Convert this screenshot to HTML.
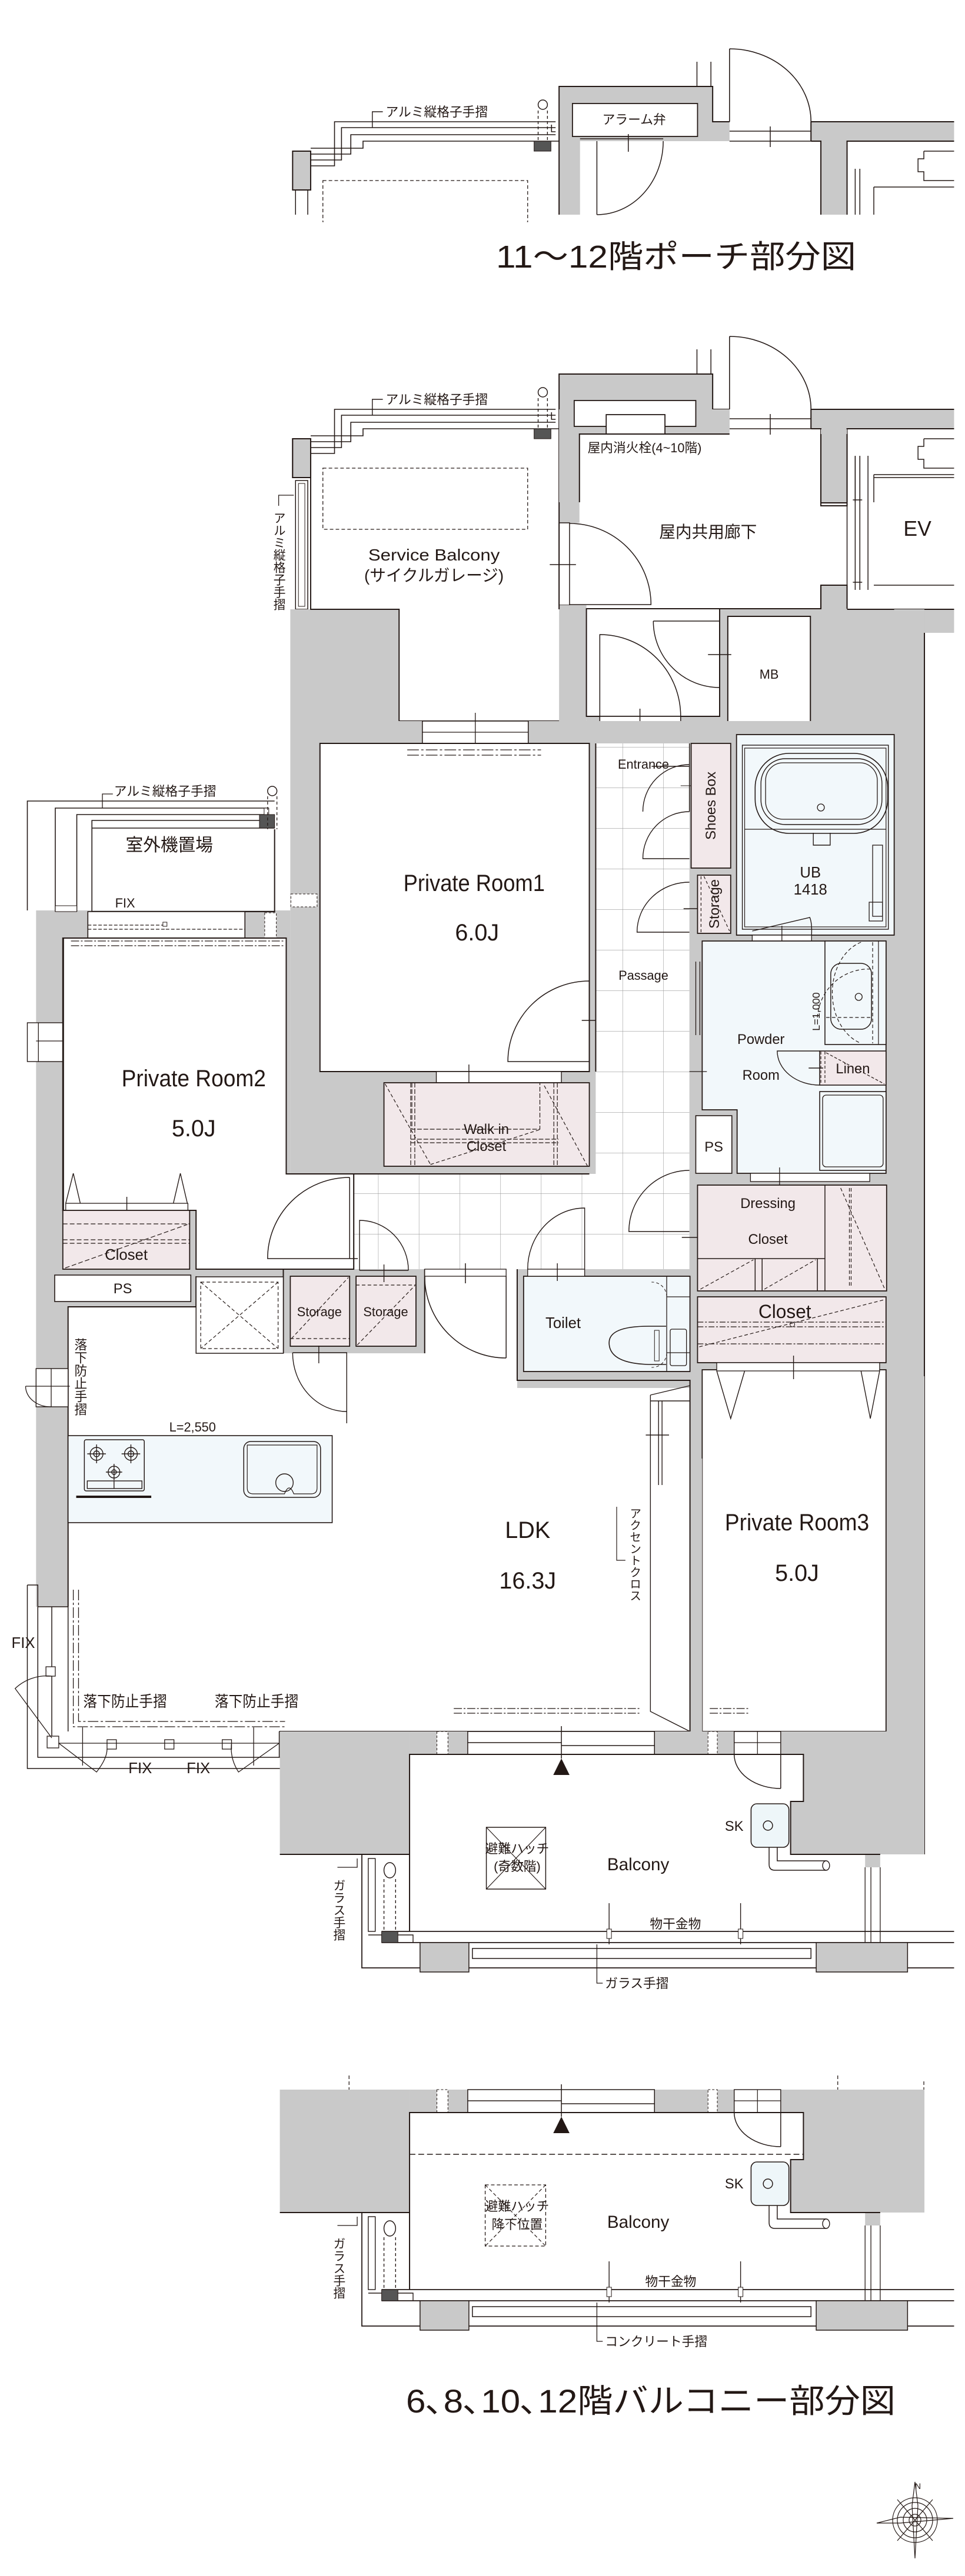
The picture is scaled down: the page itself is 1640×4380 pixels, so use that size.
<!DOCTYPE html>
<html><head><meta charset="utf-8"><style>
html,body{margin:0;padding:0;background:#fff}
svg{display:block}
text{font-family:"Liberation Sans","Noto Sans CJK JP",sans-serif;fill:#231815}
.v{writing-mode:vertical-rl;text-orientation:upright}
</style></head><body>
<svg width="1640" height="4380" viewBox="0 0 1640 4380" xmlns="http://www.w3.org/2000/svg">
<defs>
<pattern id="tile" x="650" y="2029" width="70" height="69" patternUnits="userSpaceOnUse">
<path d="M0 0H70M0 0V69" stroke="#9a9a9a" stroke-width="1.2" fill="none"/>
</pattern>
<g id="topw">
 <rect x="961" y="147" width="264" height="60" fill="#c9c9c9"/>
 <rect x="961" y="207" width="293" height="33" fill="#c9c9c9"/>
 <rect x="961" y="240" width="36" height="125" fill="#c9c9c9"/>
 <rect x="1394" y="207" width="246" height="33" fill="#c9c9c9"/>
 <rect x="1411" y="240" width="45" height="125" fill="#c9c9c9"/>
 <path d="M961 365V147H1225V207H1254M1394 207H1640M1394 240V207M1456 365V240H1640M1411 365V240H1394" fill="none" stroke="#231815" stroke-width="2"/>
 <path d="M1198 105V147M1222 105V147M1254 223H1394M1254 240H1394M1324 215V250" stroke="#231815" stroke-width="1.5" fill="none"/>
 <path d="M1254 83V207M1254 83A140 124 0 0 1 1394 207" stroke="#231815" stroke-width="1.6" fill="none"/>
 <path d="M534 282H575V207H955M534 272H587V217H955M534 262H603V229H955M534 252H624V240H961M948 212V224H955" stroke="#231815" stroke-width="1.6" fill="none"/>
 <rect x="503" y="257" width="31" height="66" fill="#c9c9c9" stroke="#231815" stroke-width="2"/>
 <circle cx="933" cy="178" r="8" fill="#fff" stroke="#231815" stroke-width="1.5"/>
 <path d="M925 188V240M941 188V240" stroke="#231815" stroke-width="1.4" stroke-dasharray="5 4"/>
 <rect x="918" y="240" width="29" height="17" fill="#555" stroke="#231815"/>
 <path d="M640 217V190H658" stroke="#231815" stroke-width="1.4" fill="none"/>
 <path d="M1588 257H1640M1588 257V270H1578V292H1588V307H1640M1470 287V365M1478 287V365M1502 318H1640M1502 318V365" stroke="#231815" stroke-width="1.5" fill="none"/>
</g>
<g id="balc">
 <rect x="481" y="2944" width="223" height="209" fill="#c9c9c9"/>
 <rect x="704" y="2944" width="638" height="39" fill="#c9c9c9"/>
 <rect x="1342" y="2944" width="247" height="39" fill="#c9c9c9"/>
 <rect x="1381" y="2983" width="208" height="80" fill="#c9c9c9"/>
 <rect x="1359" y="3063" width="230" height="90" fill="#c9c9c9"/>
 <rect x="1487" y="3153" width="26" height="22" fill="#c9c9c9"/>
 <rect x="804" y="2944" width="321" height="39" fill="#fff" stroke="#231815" stroke-width="1.5"/>
 <path d="M804 2963H965M965 2968H1125" stroke="#231815" stroke-width="1.4"/>
 <rect x="751" y="2944" width="19" height="39" fill="#fff" stroke="#231815" stroke-dasharray="4 3"/>
 <rect x="1217" y="2944" width="16" height="39" fill="#fff" stroke="#231815" stroke-dasharray="4 3"/>
 <rect x="1262" y="2944" width="80" height="39" fill="#fff" stroke="#231815" stroke-width="1.4"/>
 <path d="M1262 2963H1342M1302 2944V2983" stroke="#231815" stroke-width="1.2"/>
 <path d="M1342 2983V3041M1262 2983A80 58 0 0 0 1342 3041" stroke="#231815" stroke-width="1.5" fill="none"/>
 <path d="M481 3153H704V2983H1381V3063H1359V3153H1513M704 3284V3153" stroke="#231815" stroke-width="2" fill="none"/>
 <path d="M965 2935V2990" stroke="#231815" stroke-width="1.5"/>
 <path d="M965 2990L951 3018H979Z" fill="#231815"/>
 <path d="M656 3284H1640M656 3303H1640M622 3153V3346H1640M622 3346" stroke="#231815" stroke-width="1.8" fill="none"/>
 <rect x="633" y="3160" width="12" height="124" fill="#fff" stroke="#231815" stroke-width="1.4"/>
 <path d="M633 3290H710V3303" stroke="#231815" stroke-width="1.4" fill="none"/>
 <rect x="656" y="3284" width="28" height="19" fill="#555" stroke="#231815"/>
 <ellipse cx="670" cy="3180" rx="10" ry="13" fill="#fff" stroke="#231815" stroke-width="1.5"/>
 <path d="M660 3195V3284M680 3195V3284" stroke="#231815" stroke-width="1.4" stroke-dasharray="5 4"/>
 <rect x="722" y="3303" width="84" height="50" fill="#c9c9c9" stroke="#231815" stroke-width="1.5"/>
 <rect x="1403" y="3303" width="157" height="50" fill="#c9c9c9" stroke="#231815" stroke-width="1.5"/>
 <rect x="812" y="3313" width="582" height="17" fill="#fff" stroke="#231815" stroke-width="1.5"/>
 <path d="M1047 3236V3306M1273 3236V3306" stroke="#231815" stroke-width="1.4"/>
 <rect x="1043" y="3280" width="8" height="16" fill="#fff" stroke="#231815"/>
 <rect x="1269" y="3280" width="8" height="16" fill="#fff" stroke="#231815"/>
 <path d="M1487 3175V3303M1497 3175V3303M1513 3175V3303" stroke="#231815" stroke-width="1.3"/>
 <rect x="1291" y="3067" width="65" height="74" rx="10" fill="#eef6f9" stroke="#231815" stroke-width="1.6"/>
 <circle cx="1320" cy="3104" r="8" fill="none" stroke="#231815" stroke-width="1.5"/>
 <path d="M1322 3141V3170Q1322 3180 1332 3180H1420M1336 3141V3164H1420" stroke="#231815" stroke-width="1.5" fill="none"/>
 <ellipse cx="1420" cy="3172" rx="6" ry="8" fill="#fff" stroke="#231815" stroke-width="1.4"/>
 <path d="M1026 3306V3372H1036" stroke="#231815" stroke-width="1.3" fill="none"/>
 <path d="M580 3175H614V3160" stroke="#231815" stroke-width="1.3" fill="none"/>
</g>
</defs>

<g transform="scale(0.9887,1)">
<!-- ======== PORCH ======== -->
<use href="#topw"/>
<rect x="984" y="176" width="215" height="56" fill="#fff" stroke="#231815" stroke-width="1.8"/>
<path d="M997 236H1140M1080 228V258" stroke="#231815" stroke-width="1.5" fill="none"/>
<path d="M1026 240V365M1140 240A114 125 0 0 1 1026 365" stroke="#231815" stroke-width="1.5" fill="none"/>
<rect x="555" y="307" width="352" height="70" fill="none" stroke="#231815" stroke-width="1.3" stroke-dasharray="6 4"/>
<rect x="556" y="366" width="350" height="20" fill="#fff"/>
<path d="M508 323V365M529 323V365" stroke="#231815" stroke-width="1.5"/>

<!-- ======== MAIN TOP ======== -->
<g transform="translate(0,489)"><use href="#topw"/></g>
<rect x="961" y="696" width="293" height="42" fill="#c9c9c9"/>
<rect x="961" y="738" width="35" height="151" fill="#c9c9c9"/>
<rect x="987" y="681" width="209" height="44" fill="#fff" stroke="#231815" stroke-width="1.8"/>
<rect x="1042" y="705" width="101" height="33" fill="#fff" stroke="#231815" stroke-width="1.8"/>
<path d="M996 854V738H1254" stroke="#231815" stroke-width="2" fill="none"/>
<rect x="1411" y="854" width="45" height="0" fill="none"/>
<rect x="1411" y="995" width="45" height="41" fill="#c9c9c9" stroke="#231815" stroke-width="2"/>
<path d="M1411 852V854M1456 854V860H1411V854" stroke="#231815" stroke-width="2" fill="none"/>
<rect x="1411" y="730" width="45" height="125" fill="#c9c9c9"/>
<path d="M1411 738V855H1456V738" stroke="#231815" stroke-width="2" fill="none"/>
<path d="M1470 775V1003M1478 775V1003M1492 775V1003M1502 812H1640M1502 995H1640M1456 738V1036" stroke="#231815" stroke-width="1.5" fill="none"/>
<path d="M1466 850H1482M1466 990H1482" stroke="#231815" stroke-width="1.5"/>
<!-- corridor door frame -->
<rect x="961" y="889" width="18" height="140" fill="#fff" stroke="#231815" stroke-width="1.5"/>
<path d="M945 960H990" stroke="#231815" stroke-width="1.5"/>
<path d="M979 890A140 138 0 0 1 1119 1028H979" stroke="#231815" stroke-width="1.5" fill="none"/>
<!-- gray below corridor -->
<rect x="961" y="1029" width="47" height="252" fill="#c9c9c9"/>
<rect x="1008" y="1035" width="581" height="215" fill="#c9c9c9"/>
<rect x="1588" y="1036" width="52" height="40" fill="#c9c9c9"/>
<path d="M1008 1035H1411V995M1456 1036H1640" stroke="#231815" stroke-width="2" fill="none"/>
<rect x="1008" y="1035" width="229" height="183" fill="#fff" stroke="#231815" stroke-width="2"/>
<rect x="1251" y="1048" width="142" height="181" fill="#fff" stroke="#231815" stroke-width="2"/>
<path d="M1123 1056H1237V1169M1123 1056A114 113 0 0 0 1237 1169M1217 1113H1257" stroke="#231815" stroke-width="1.5" fill="none"/>
<path d="M1031 1218V1079A139 139 0 0 1 1170 1218" stroke="#231815" stroke-width="1.5" fill="none"/>
<rect x="1031" y="1218" width="139" height="46" fill="#fff" stroke="#231815" stroke-width="1.5"/>
<path d="M1100 1205V1240" stroke="#231815" stroke-width="1.5"/>

<!-- service balcony -->
<rect x="503" y="746" width="31" height="66" fill="#c9c9c9" stroke="#231815" stroke-width="2"/>
<rect x="508" y="817" width="21" height="219" fill="#fff" stroke="#231815" stroke-width="1.5"/>
<rect x="513" y="822" width="11" height="209" fill="none" stroke="#231815" stroke-width="1"/>
<path d="M479 860V842H505" stroke="#231815" stroke-width="1.3" fill="none"/>
<rect x="555" y="796" width="352" height="104" fill="none" stroke="#231815" stroke-width="1.3" stroke-dasharray="6 4"/>
<rect x="499" y="1036" width="187" height="190" fill="#c9c9c9"/>
<path d="M534 812V1036H686V1226H961" stroke="#231815" stroke-width="2" fill="none"/>
<path d="M961 1036V854" stroke="#231815" stroke-width="2"/>

<!-- ======== CORE GRAY ======== -->
<rect x="499" y="1226" width="1090" height="1149" fill="#c9c9c9"/>
<rect x="1537" y="1036" width="52" height="2117" fill="#c9c9c9"/>
<path d="M1589 1076V3153" stroke="#231815" stroke-width="2"/>
<rect x="62" y="1548" width="437" height="1184" fill="#c9c9c9"/>
<rect x="116" y="2340" width="1473" height="604" fill="#c9c9c9"/>

<!-- outdoor unit area -->
<path d="M47 1548V1362H472M95 1550V1374H462M132 1550V1385H462M158 1550V1395H472M158 1408H472" stroke="#231815" stroke-width="1.6" fill="none"/>
<rect x="95" y="1540" width="37" height="10" fill="#fff" stroke="#231815"/>
<rect x="454" y="1374" width="8" height="21" fill="#fff" stroke="#231815"/>
<rect x="446" y="1385" width="26" height="23" fill="#555" stroke="#231815"/>
<circle cx="468" cy="1345" r="8" fill="#fff" stroke="#231815" stroke-width="1.5"/>
<path d="M460 1354V1410M476 1354V1410" stroke="#231815" stroke-dasharray="5 4" stroke-width="1.3"/>
<path d="M176 1374V1350H194" stroke="#231815" stroke-width="1.3" fill="none"/>
<path d="M158 1550H472V1410" stroke="#231815" stroke-width="2" fill="none"/>
<rect x="151" y="1550" width="270" height="45" fill="#fff" stroke="#231815" stroke-width="1.6"/>
<path d="M151 1573H285M151 1580H285M285 1580H421" stroke="#231815" stroke-width="1.3" stroke-dasharray="6 3"/>
<rect x="280" y="1568" width="7" height="7" fill="#fff" stroke="#231815"/>
<rect x="500" y="1520" width="45" height="22" fill="#fff" stroke="#231815" stroke-dasharray="4 3"/>
<rect x="455" y="1552" width="20" height="45" fill="#fff" stroke="#231815" stroke-dasharray="4 3"/>

<!-- window room2 west -->
<rect x="47" y="1739" width="62" height="66" fill="#fff" stroke="#231815" stroke-width="1.4"/>
<path d="M66 1739V1805M62 1770H109M115 1650V1790M122 1650V1790" stroke="#231815" stroke-width="1.3" fill="none"/>

<!-- ======== ROOMS ======== -->
<rect x="726" y="1226" width="182" height="38" fill="#fff" stroke="#231815" stroke-width="1.5"/>
<path d="M726 1245H908M817 1212V1275" stroke="#231815" stroke-width="1.3"/>
<rect x="550" y="1264" width="463" height="558" fill="#fff" stroke="#231815" stroke-width="2"/>
<path d="M700 1275H930M700 1284H930" stroke="#231815" stroke-width="1.3" stroke-dasharray="20 4 4 4"/>
<path d="M1013 1668A140 137 0 0 0 873 1805H1013V1668M1000 1735H1030" stroke="#231815" stroke-width="1.5" fill="none"/>
<rect x="750" y="1822" width="215" height="19" fill="#fff" stroke="#231815" stroke-width="1.4"/>
<path d="M806 1810V1850" stroke="#231815" stroke-width="1.4"/>
<rect x="660" y="1841" width="353" height="142" fill="#f2e8ea" stroke="#231815" stroke-width="1.8"/>
<path d="M708 1841V1920H928V1841M706 1937H960M706 1943H960M706 1841V1983M713 1841V1983M952 1841V1983M958 1841V1983" stroke="#231815" stroke-width="1.2" fill="none" stroke-dasharray="8 3"/>
<path d="M662 1843L740 1980M1010 1983L935 1845M740 1980L930 1920" stroke="#231815" stroke-width="1.2" stroke-dasharray="6 4" fill="none"/>

<!-- passage -->
<rect x="1024" y="1264" width="161" height="732" fill="#fff"/>
<rect x="1024" y="1264" width="161" height="732" fill="url(#tile)"/>
<rect x="608" y="1996" width="577" height="162" fill="#fff"/>
<rect x="608" y="1996" width="577" height="162" fill="url(#tile)"/>
<path d="M1024 1264V1822M1013 1996H608V2158" stroke="#231815" stroke-width="2" fill="none"/>
<path d="M1185 1264V1300A80 80 0 0 0 1105 1380M1185 1300V1380M1185 1380A80 80 0 0 0 1105 1460H1185M1120 1303H1185M1185 1500A90 85 0 0 0 1095 1585H1185M1175 1545H1200" stroke="#231815" stroke-width="1.4" fill="none"/>
<path d="M1185 1990A104 104 0 0 0 1081 2094H1185M1172 2104H1200" stroke="#231815" stroke-width="1.4" fill="none"/>
<rect x="1188" y="1264" width="68" height="212" fill="#f2e8ea" stroke="#231815" stroke-width="1.8"/>
<path d="M1170 1336H1188M1256 1336H1256" stroke="#231815"/>
<rect x="1199" y="1488" width="57" height="99" fill="#f2e8ea" stroke="#231815" stroke-width="1.8"/>
<path d="M1205 1490V1585M1210 1490L1254 1583" stroke="#231815" stroke-dasharray="5 4" stroke-width="1.2"/>

<!-- UB -->
<rect x="1266" y="1249" width="271" height="341" fill="#f2f8fb" stroke="#231815" stroke-width="1.8"/>
<rect x="1276" y="1267" width="251" height="313" fill="none" stroke="#231815" stroke-width="1.4"/>
<rect x="1280" y="1272" width="243" height="304" fill="none" stroke="#231815" stroke-width="1.2"/>
<path d="M1280 1410H1523" stroke="#231815" stroke-width="1.3"/>
<rect x="1298" y="1281" width="228" height="136" rx="58" fill="none" stroke="#231815" stroke-width="1.6"/>
<rect x="1308" y="1290" width="208" height="112" rx="42" fill="none" stroke="#231815" stroke-width="1.4"/>
<rect x="1316" y="1297" width="192" height="96" rx="30" fill="none" stroke="#231815" stroke-width="1.3"/>
<circle cx="1411" cy="1373" r="6" fill="none" stroke="#231815" stroke-width="1.3"/>
<path d="M1398 1416V1437H1427V1416" stroke="#231815" stroke-width="1.4" fill="none"/>
<rect x="1500" y="1437" width="17" height="121" fill="none" stroke="#231815" stroke-width="1.3"/>
<rect x="1494" y="1534" width="23" height="32" fill="none" stroke="#231815" stroke-width="1.3"/>
<path d="M1293 1583L1392 1560Q1396 1570 1395 1590" stroke="#231815" stroke-width="1.4" fill="none"/>
<rect x="1293" y="1590" width="102" height="12" fill="#fff" stroke="#231815" stroke-width="1.3"/>
<path d="M1344 1574V1606" stroke="#231815" stroke-width="1.3"/>

<!-- Powder -->
<path d="M1207 1600H1523V1995H1267V1887H1207Z" fill="#f2f8fb" stroke="#231815" stroke-width="1.8"/>
<path d="M1196 1635V1760M1203 1635V1760M1185 1822H1215" stroke="#231815" stroke-width="1.3"/>
<rect x="1418" y="1600" width="105" height="176" fill="#f2f8fb" stroke="#231815" stroke-width="1.6"/>
<path d="M1510 1600V1776" stroke="#231815" stroke-width="1.2"/>
<rect x="1428" y="1638" width="70" height="112" rx="18" fill="none" stroke="#231815" stroke-width="1.5"/>
<circle cx="1476" cy="1695" r="6" fill="none" stroke="#231815" stroke-width="1.3"/>
<path d="M1500 1602V1774M1480 1602A70 90 0 0 0 1480 1774M1405 1730A88 88 0 0 1 1500 1648M1420 1730H1500" stroke="#231815" stroke-width="1.2" stroke-dasharray="6 4" fill="none"/>
<rect x="1409" y="1787" width="114" height="58" fill="#f2e8ea" stroke="#231815" stroke-width="1.6"/>
<path d="M1411 1788V1843M1418 1788V1843M1420 1790L1520 1843" stroke="#231815" stroke-width="1.2" stroke-dasharray="5 3"/>
<path d="M1409 1787H1336A73 58 0 0 0 1409 1845M1390 1816H1415" stroke="#231815" stroke-width="1.4" fill="none"/>
<rect x="1409" y="1856" width="114" height="134" fill="#f2f8fb" stroke="#231815" stroke-width="1.6"/>
<rect x="1414" y="1862" width="104" height="122" rx="6" fill="none" stroke="#231815" stroke-width="1.3"/>
<rect x="1196" y="1897" width="62" height="98" fill="#fff" stroke="#231815" stroke-width="1.6"/>
<rect x="1290" y="1995" width="205" height="14" fill="#fff" stroke="#231815" stroke-width="1.3"/>
<path d="M1340 1985V2020" stroke="#231815" stroke-width="1.3"/>

<!-- dressing / closet -->
<rect x="1199" y="2015" width="325" height="180" fill="#f2e8ea" stroke="#231815" stroke-width="1.8"/>
<path d="M1298 2140V2195M1310 2140V2195M1405 2140V2195M1418 2140V2195M1418 2015V2195M1199 2140H1418" stroke="#231815" stroke-width="1.5" fill="none"/>
<path d="M1204 2192L1295 2142M1314 2192L1402 2142M1445 2020L1520 2190M1463 2020V2190M1460 2020V2190" stroke="#231815" stroke-width="1.2" stroke-dasharray="6 4" fill="none"/>
<rect x="1199" y="2205" width="324" height="112" fill="#f2e8ea" stroke="#231815" stroke-width="1.8"/>
<path d="M1199 2248H1523M1199 2256H1523M1199 2285H1523" stroke="#231815" stroke-width="1.2" stroke-dasharray="10 3 3 3"/>
<path d="M1202 2290L1520 2210" stroke="#231815" stroke-width="1.2" stroke-dasharray="6 4"/>
<circle cx="1362" cy="2252" r="4" fill="none" stroke="#231815"/>

<!-- Room3 -->
<rect x="1207" y="2329" width="316" height="615" fill="#fff" stroke="#231815" stroke-width="1.8"/>
<rect x="1232" y="2317" width="280" height="14" fill="#fff" stroke="#231815" stroke-width="1.3"/>
<path d="M1364 2305V2345M1232 2331L1256 2412L1280 2331M1480 2331L1496 2412L1512 2331" stroke="#231815" stroke-width="1.4" fill="none"/>
<path d="M1220 2905H1288M1220 2913H1288" stroke="#231815" stroke-width="1.3" stroke-dasharray="14 3 3 3"/>

<!-- Toilet -->
<rect x="900" y="2170" width="286" height="162" fill="#f2f8fb" stroke="#231815" stroke-width="1.8"/>
<path d="M1146 2170V2332M1146 2205H1186M1146 2300H1186" stroke="#231815" stroke-width="1.3"/>
<path d="M1145 2255H1115Q1047 2255 1047 2283Q1047 2318 1115 2320H1145" stroke="#231815" stroke-width="1.6" fill="none"/>
<rect x="1125" y="2262" width="8" height="52" fill="none" stroke="#231815"/>
<rect x="1152" y="2260" width="28" height="62" rx="3" fill="none" stroke="#231815" stroke-width="1.3"/>
<path d="M1146 2205A25 25 0 0 0 1120 2180M1146 2300A25 25 0 0 1 1120 2325" stroke="#231815" stroke-dasharray="5 4" fill="none"/>
<rect x="907" y="2158" width="98" height="12" fill="#fff" stroke="#231815" stroke-width="1.3"/>
<path d="M958 2148V2178M1005 2158V2054A98 104 0 0 0 907 2158" stroke="#231815" stroke-width="1.4" fill="none"/>

<!-- LDK -->
<path d="M117 2222H487V2301H730V2158H889V2360H1186V2944H117Z" fill="#fff"/>
<path d="M117 2732V2222H337V2170M487 2301V2158M730 2301V2158M889 2158V2347H1186V2944H480" stroke="#231815" stroke-width="2" fill="none"/>
<rect x="730" y="2158" width="140" height="12" fill="#fff" stroke="#231815" stroke-width="1.3"/>
<path d="M800 2148V2182M870 2170V2309M730 2170A140 139 0 0 0 870 2309" stroke="#231815" stroke-width="1.5" fill="none"/>
<path d="M1118 2372V2910L1186 2944M1118 2372L1186 2356M1118 2382H1186M1132 2382V2525M1138 2382V2525M1110 2440H1150" stroke="#231815" stroke-width="1.4" fill="none"/>
<rect x="1188" y="2480" width="19" height="464" fill="#c9c9c9"/>
<path d="M780 2905H1100M780 2913H1100" stroke="#231815" stroke-width="1.3" stroke-dasharray="14 3 3 3"/>
<path d="M1060 2562V2653H1075" stroke="#231815" stroke-width="1.2" fill="none"/>

<!-- kitchen -->
<rect x="117" y="2441" width="454" height="148" fill="#f2f8fb" stroke="#231815" stroke-width="1.6"/>
<rect x="145" y="2448" width="103" height="87" rx="3" fill="none" stroke="#231815" stroke-width="1.5"/>
<g stroke="#231815" fill="none" stroke-width="1.4">
<circle cx="166" cy="2472" r="11"/><circle cx="166" cy="2472" r="5"/>
<circle cx="225" cy="2472" r="11"/><circle cx="225" cy="2472" r="5"/>
<circle cx="196" cy="2503" r="10"/><circle cx="196" cy="2503" r="4"/>
<path d="M150 2472H182M166 2456V2488M209 2472H241M225 2456V2488M182 2503H210M196 2489V2517"/>
<rect x="150" y="2518" width="94" height="13"/><path d="M196 2518V2531"/>
</g>
<path d="M131 2545H260" stroke="#231815" stroke-width="4"/>
<rect x="419" y="2451" width="132" height="95" rx="12" fill="none" stroke="#231815" stroke-width="1.5"/>
<path d="M425 2457H545V2530Q545 2540 535 2540H505Q497 2520 489 2540H435Q425 2540 425 2530Z" fill="none" stroke="#231815" stroke-width="1.2"/>
<circle cx="489" cy="2521" r="15" fill="none" stroke="#231815" stroke-width="1.4"/>

<!-- Room2 -->
<path d="M108 1595H492V1996H608V2158H337V2058H108Z" fill="#fff" stroke="#231815" stroke-width="2"/>
<path d="M109 1595V2058" stroke="#231815" stroke-width="2"/>
<path d="M122 1600H490M122 1608H490" stroke="#231815" stroke-width="1.3" stroke-dasharray="14 3 3 3"/>
<path d="M601 2002V2140H460A141 138 0 0 1 601 2002M585 2140H615" stroke="#231815" stroke-width="1.5" fill="none"/>
<rect x="113" y="2046" width="210" height="12" fill="#fff" stroke="#231815" stroke-width="1.3"/>
<path d="M218 2035V2068M113 2046L126 1995L138 2046M298 2046L310 1995L322 2046" stroke="#231815" stroke-width="1.4" fill="none"/>
<rect x="108" y="2058" width="218" height="100" fill="#f2e8ea" stroke="#231815" stroke-width="1.8"/>
<path d="M108 2081H326M108 2108H326M108 2114H326M112 2156L322 2082" stroke="#231815" stroke-width="1.2" stroke-dasharray="8 4" fill="none"/>
<rect x="94" y="2168" width="234" height="45" fill="#fff" stroke="#231815" stroke-width="1.6"/>
<rect x="337" y="2171" width="150" height="130" fill="#fff" stroke="#231815" stroke-width="1.5"/>
<rect x="345" y="2180" width="133" height="113" fill="none" stroke="#231815" stroke-width="1.2" stroke-dasharray="6 4"/>
<path d="M345 2180L478 2293M478 2180L345 2293" stroke="#231815" stroke-width="1.2" stroke-dasharray="6 4"/>
<rect x="499" y="2170" width="102" height="119" fill="#f2e8ea" stroke="#231815" stroke-width="1.8"/>
<rect x="612" y="2170" width="103" height="119" fill="#f2e8ea" stroke="#231815" stroke-width="1.8"/>
<path d="M499 2276H601M501 2276L599 2172M612 2185H715M614 2287L713 2186" stroke="#231815" stroke-width="1.2" stroke-dasharray="6 4" fill="none"/>
<path d="M618 2160V2075A84 85 0 0 1 702 2160M618 2160H702M660 2150V2180" stroke="#231815" stroke-width="1.4" fill="none"/>
<path d="M503 2300H596V2420M503 2300A93 100 0 0 0 596 2400M548 2288V2318" stroke="#231815" stroke-width="1.4" fill="none"/>
<rect x="62" y="2327" width="55" height="65" fill="#fff" stroke="#231815" stroke-width="1.4"/>
<path d="M88 2327V2392M44 2357H120M44 2357A43 35 0 0 0 88 2392" stroke="#231815" stroke-width="1.3" fill="none"/>

<!-- LDK west windows -->
<rect x="65" y="2732" width="52" height="212" fill="#fff"/>
<path d="M47 2695H65V2732H117M47 2695V3007H501V2988H65V2732M89 2732V2952M117 2944V2732M480 2944V2988" stroke="#231815" stroke-width="1.5" fill="none"/>
<path d="M126 2703V2936H490M135 2703V2927H490" stroke="#231815" stroke-width="1.3" stroke-dasharray="18 4 4 4" fill="none"/>
<rect x="81" y="2952" width="20" height="20" fill="#fff" stroke="#231815" stroke-width="1.3"/>
<rect x="184" y="2958" width="16" height="16" fill="#fff" stroke="#231815" stroke-width="1.3"/>
<rect x="283" y="2958" width="16" height="16" fill="#fff" stroke="#231815" stroke-width="1.3"/>
<rect x="382" y="2958" width="16" height="16" fill="#fff" stroke="#231815" stroke-width="1.3"/>
<rect x="79" y="2834" width="16" height="16" fill="#fff" stroke="#231815" stroke-width="1.3"/>
<path d="M101 2964H480M89 2850A80 80 0 0 0 26 2871L89 2955M101 2964L166 3013Q184 2990 184 2974M398 2964Q395 2990 410 3013L480 2964M142 2937V3002M436 2937V3002" stroke="#231815" stroke-width="1.3" fill="none"/>
</g>

<!-- ======== BALCONY 1 ======== -->
<g transform="scale(0.9887,1)">
<use href="#balc"/>
</g>
<!-- ======== BALCONY 2 ======== -->
<g transform="scale(0.9887,1) translate(0,609)">
<use href="#balc"/>
<path d="M704 3054H1381" stroke="#231815" stroke-width="1.5" stroke-dasharray="10 5"/>
<path d="M600 2920V2944M1440 2920V2944M1588 2930V2944" stroke="#231815" stroke-width="1.3" stroke-dasharray="6 4"/>
</g>

<!-- hatches -->
<g transform="scale(0.9887,1)">
<rect x="836" y="3107" width="102" height="105" fill="#fff" stroke="#231815" stroke-width="1.5"/>
<path d="M836 3107L938 3212M938 3107L836 3212" stroke="#231815" stroke-width="1.2"/>
<rect x="834" y="3715" width="104" height="104" fill="#fff" stroke="#231815" stroke-width="1.3" stroke-dasharray="6 4"/>
<path d="M834 3715L938 3819M938 3715L834 3819" stroke="#231815" stroke-width="1.2" stroke-dasharray="6 4"/>
</g>

<!-- compass -->
<g stroke="#231815" fill="none" stroke-width="1.2">
<circle cx="1555" cy="4285" r="38"/><circle cx="1555" cy="4285" r="30"/><circle cx="1555" cy="4285" r="20"/><circle cx="1555" cy="4285" r="10"/>
<path d="M1555 4220L1560 4260L1555 4350L1550 4260ZM1490 4290L1530 4280L1620 4282L1530 4290Z"/>
<path d="M1525 4250L1585 4320M1585 4250L1525 4320"/>
</g>

<!-- ======== TEXT ======== -->
<g transform="scale(0.9887,1)">
<text x="1090" y="211" font-size="22" text-anchor="middle">アラーム弁</text>
<text x="663" y="198" font-size="22">アルミ縦格子手摺</text>
<text x="663" y="687" font-size="22">アルミ縦格子手摺</text>
<text x="1010" y="769" font-size="22">屋内消火栓(4~10階)</text>
<text x="1217" y="914" font-size="28" text-anchor="middle">屋内共用廊下</text>
<text x="1577" y="911" font-size="36" text-anchor="middle">EV</text>
<text x="746" y="953" font-size="28" text-anchor="middle" textLength="226" lengthAdjust="spacingAndGlyphs">Service Balcony</text>
<text x="746" y="988" font-size="28" text-anchor="middle">(サイクルガレージ)</text>
<text x="1322" y="1154" font-size="22" text-anchor="middle">MB</text>
<text x="479" y="870" font-size="21" class="v">アルミ縦格子手摺</text>
<text x="1106" y="1307" font-size="22" text-anchor="middle">Entrance</text>
<text x="1106" y="1666" font-size="22" text-anchor="middle">Passage</text>
<text x="815" y="1515" font-size="40" text-anchor="middle" textLength="243" lengthAdjust="spacingAndGlyphs">Private Room1</text>
<text x="820" y="1599" font-size="40" text-anchor="middle">6.0J</text>
<text x="291" y="1447" font-size="30" text-anchor="middle">室外機置場</text>
<text x="196" y="1353" font-size="22">アルミ縦格子手摺</text>
<text x="215" y="1543" font-size="22" text-anchor="middle">FIX</text>
<text x="333" y="1847" font-size="40" text-anchor="middle" textLength="248" lengthAdjust="spacingAndGlyphs">Private Room2</text>
<text x="333" y="1932" font-size="40" text-anchor="middle">5.0J</text>
<text x="836" y="1928" font-size="24" text-anchor="middle">Walk in</text>
<text x="836" y="1957" font-size="24" text-anchor="middle">Closet</text>
<text transform="translate(1230,1370) rotate(-90)" font-size="24" text-anchor="middle">Shoes Box</text>
<text transform="translate(1236,1537) rotate(-90)" font-size="24" text-anchor="middle">Storage</text>
<text x="1393" y="1492" font-size="26" text-anchor="middle">UB</text>
<text x="1393" y="1521" font-size="26" text-anchor="middle">1418</text>
<text x="1308" y="1775" font-size="24" text-anchor="middle">Powder</text>
<text x="1308" y="1836" font-size="24" text-anchor="middle">Room</text>
<text transform="translate(1409,1720) rotate(-90)" font-size="18" text-anchor="middle">L=1,000</text>
<text x="1466" y="1825" font-size="24" text-anchor="middle">Linen</text>
<text x="1227" y="1958" font-size="24" text-anchor="middle">PS</text>
<text x="1320" y="2054" font-size="24" text-anchor="middle">Dressing</text>
<text x="1320" y="2115" font-size="24" text-anchor="middle">Closet</text>
<text x="1349" y="2241" font-size="32" text-anchor="middle">Closet</text>
<text x="968" y="2258" font-size="26" text-anchor="middle">Toilet</text>
<text x="217" y="2142" font-size="26" text-anchor="middle">Closet</text>
<text x="211" y="2199" font-size="24" text-anchor="middle">PS</text>
<text x="549" y="2238" font-size="22" text-anchor="middle">Storage</text>
<text x="663" y="2238" font-size="22" text-anchor="middle">Storage</text>
<text x="138" y="2275" font-size="22" class="v">落下防止手摺</text>
<text x="331" y="2434" font-size="22" text-anchor="middle">L=2,550</text>
<text x="907" y="2615" font-size="40" text-anchor="middle">LDK</text>
<text x="907" y="2701" font-size="40" text-anchor="middle">16.3J</text>
<text x="1370" y="2602" font-size="40" text-anchor="middle" textLength="248" lengthAdjust="spacingAndGlyphs">Private Room3</text>
<text x="1370" y="2688" font-size="40" text-anchor="middle">5.0J</text>
<text x="1090" y="2563" font-size="20" class="v">アクセントクロス</text>
<text x="40" y="2802" font-size="26" text-anchor="middle">FIX</text>
<text x="241" y="3015" font-size="26" text-anchor="middle">FIX</text>
<text x="341" y="3015" font-size="26" text-anchor="middle">FIX</text>
<text x="143" y="2902" font-size="26" textLength="144" lengthAdjust="spacingAndGlyphs">落下防止手摺</text>
<text x="369" y="2902" font-size="26" textLength="144" lengthAdjust="spacingAndGlyphs">落下防止手摺</text>
<text x="889" y="3151" font-size="22" text-anchor="middle">避難ハッチ</text>
<text x="889" y="3181" font-size="22" text-anchor="middle">(奇数階)</text>
<text x="1097" y="3180" font-size="30" text-anchor="middle">Balcony</text>
<text x="1262" y="3113" font-size="24" text-anchor="middle">SK</text>
<text x="1161" y="3279" font-size="22" text-anchor="middle">物干金物</text>
<text x="1040" y="3380" font-size="22">ガラス手摺</text>
<text x="582" y="3195" font-size="21" class="v">ガラス手摺</text>
<text x="889" y="3759" font-size="22" text-anchor="middle">避難ハッチ</text>
<text x="889" y="3790" font-size="22" text-anchor="middle">降下位置</text>
<text x="1097" y="3788" font-size="30" text-anchor="middle">Balcony</text>
<text x="1262" y="3721" font-size="24" text-anchor="middle">SK</text>
<text x="1153" y="3887" font-size="22" text-anchor="middle">物干金物</text>
<text x="1040" y="3989" font-size="22">コンクリート手摺</text>
<text x="582" y="3804" font-size="21" class="v">ガラス手摺</text>
</g>
<text x="843" y="455" font-size="54" textLength="612" lengthAdjust="spacingAndGlyphs">11～12階ポーチ部分図</text>
<text x="690" y="4102" font-size="56" textLength="832" lengthAdjust="spacingAndGlyphs">6､8､10､12階バルコニー部分図</text>
<text x="1560" y="4232" font-size="14" text-anchor="middle">N</text>
</svg>
</body></html>
